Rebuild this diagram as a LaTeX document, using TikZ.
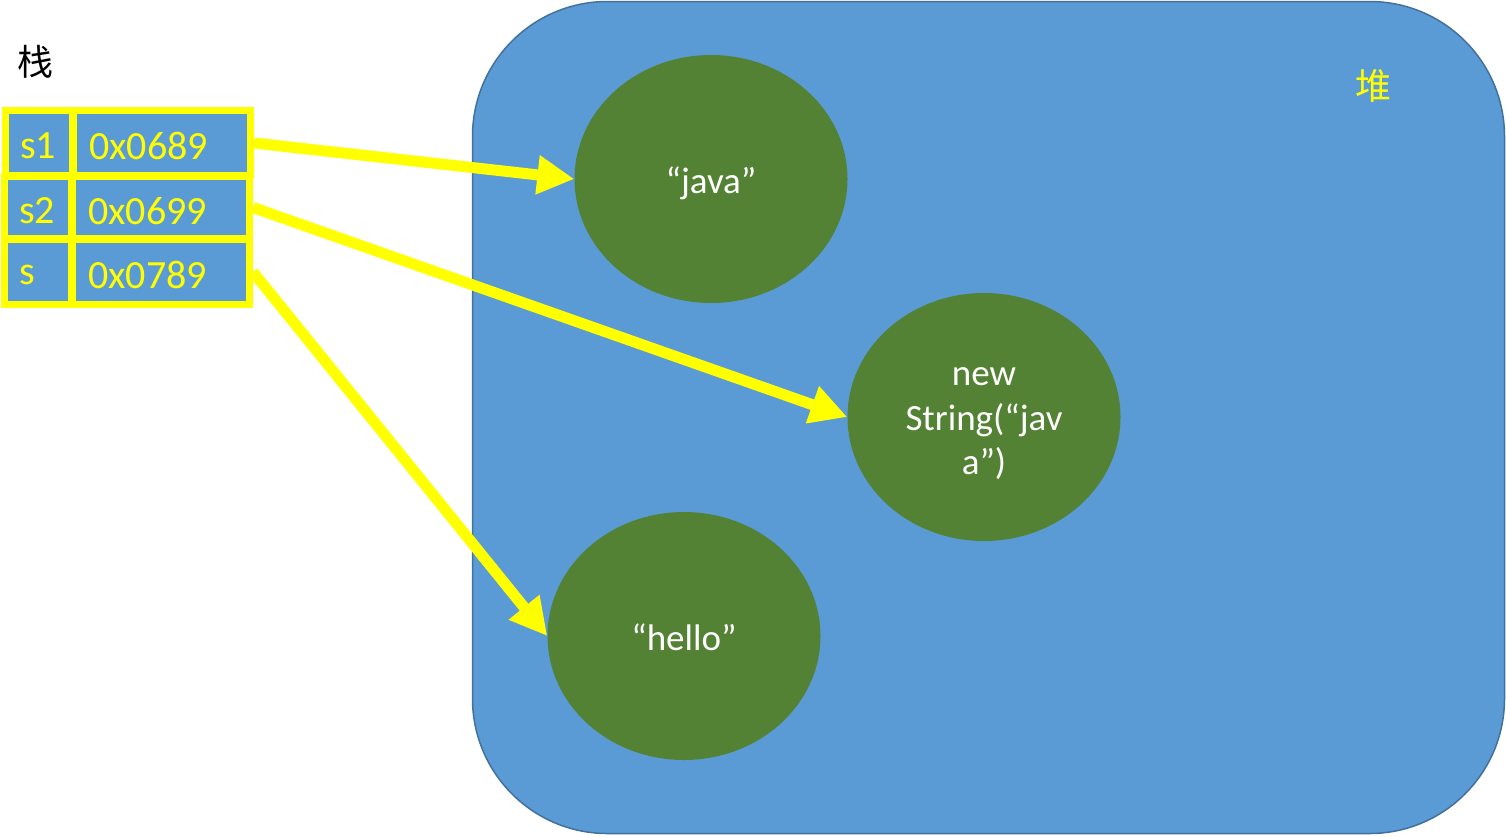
\documentclass[tikz,border=0pt]{standalone}
\usepackage{fontspec}
\setmainfont{Carlito}
\newfontfamily\cjk{Noto Sans CJK SC}
\usetikzlibrary{arrows.meta,shapes.geometric}
\definecolor{heapblue}{HTML}{5B9BD5}
\definecolor{heapline}{HTML}{41719C}
\definecolor{objgreen}{HTML}{548235}
\definecolor{ptryellow}{HTML}{FFFF00}
\tikzset{
  cellbox/.style={draw=ptryellow, line width=7pt, fill=heapblue, inner sep=0pt, minimum height=65pt},
  keybox/.style={cellbox, minimum width=67pt},
  valbox/.style={cellbox, minimum width=177pt},
  celltext/.style={anchor=west, inner sep=0pt, text=ptryellow, font=\fontsize{40}{46}\selectfont},
  obj/.style={ellipse, fill=objgreen, minimum width=273pt, minimum height=248pt, inner sep=0pt},
  objtext/.style={inner sep=0pt, text=white, align=center, font=\fontsize{37}{44.5}\selectfont},
  pointer/.style={draw=ptryellow, line width=11pt, -{Triangle[length=37pt,width=37pt]}, shorten <=0pt},
}
\begin{document}
\begin{tikzpicture}[x=1pt,y=-1pt]
\useasboundingbox (0,0) rectangle (1506,836);
% heap
\node[draw=heapline, line width=1.5pt, fill=heapblue, rounded corners=135pt, minimum width=1032pt, minimum height=832pt, inner sep=0pt] (heap) at (988.5,417.5) {};
\node[text=ptryellow, font=\cjk\fontsize{36}{40}\selectfont, inner sep=0pt] (heaplabel) at (1373,86) {堆};
% stack label
\node[text=black, font=\cjk\fontsize{36}{40}\selectfont, inner sep=0pt] (stacklabel) at (35,62) {栈};
% objects
\node[obj] (java) at (711,179) {};
\node[obj] (newstr) at (984,417) {};
\node[obj] (hello) at (684,636) {};
\node[objtext] (javatext) at ([yshift=-4pt]java.center) {“java”};
\node[objtext] (newstrtext) at ([yshift=-7pt]newstr.center) {new\\String(“jav\\a”)};
\node[objtext] (hellotext) at ([yshift=-1pt]hello.center) {“hello”};
% stack cells
\node[keybox] (k1) at (39,143) {};
\node[valbox] (v1) at (162,143) {};
\node[keybox, minimum height=62pt] (k2) at (38,207.5) {};
\node[valbox, minimum height=62pt] (v2) at (161,207.5) {};
\node[keybox] (k3) at (38,272) {};
\node[valbox] (v3) at (161,272) {};
\node[celltext] (tk1) at (20,146) {s1};
\node[celltext] (tv1) at (89,146) {0x0689};
\node[celltext] (tk2) at (19,211) {s2};
\node[celltext] (tv2) at (88,211) {0x0699};
\node[celltext] (tk3) at (19,275) {s};
\node[celltext] (tv3) at (88,275) {0x0789};
% pointers
\draw[pointer] (v1.east) -- (java.west);
\draw[pointer] (v2.east) -- (newstr.west);
\draw[pointer] (v3.east) -- (hello.west);
\end{tikzpicture}
\end{document}
